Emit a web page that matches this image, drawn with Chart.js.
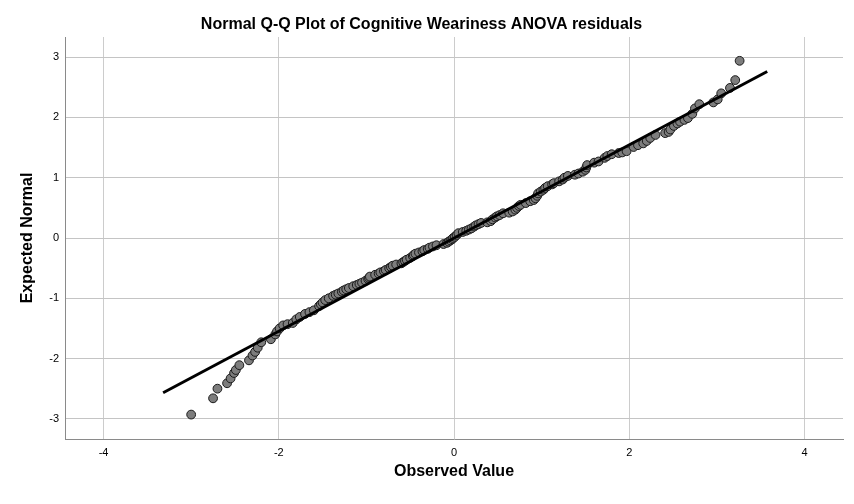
<!DOCTYPE html>
<html>
<head>
<meta charset="utf-8">
<script src="https://cdn.jsdelivr.net/npm/chart.js"></script>
<style>
    body { margin: 0; background: #ffffff; }
    #wrap { width: 854px; height: 504px; }
</style>
</head>
<body>
<div id="wrap"><canvas id="qq" width="854" height="504"></canvas></div>
<script>
// observed residuals (x) and expected normal quantiles (y)
let observed = [
    -3.00, -2.75, -2.70, -2.59, -2.55, -2.51, -2.49, -2.45, -2.34, -2.30,
    -2.27, -2.24, -2.20, -2.09, -2.04, -2.02, -1.99, -1.95, -1.90, -1.84,
    -1.80, -1.76, -1.70, -1.65, -1.60, -1.54, -1.52, -1.50, -1.47, -1.43,
    -1.38, -1.35, -1.32, -1.28, -1.26, -1.23, -1.20, -1.15, -1.11, -1.08,
    -1.05, -1.01, -0.98, -0.97, -0.96, -0.90, -0.86, -0.84, -0.80, -0.78,
    -0.74, -0.72, -0.70, -0.66, -0.60, -0.58, -0.56, -0.54, -0.50, -0.47,
    -0.46, -0.44, -0.40, -0.36, -0.34, -0.30, -0.28, -0.24, -0.20, -0.12,
    -0.08, -0.06, -0.04, -0.02, -0.01, 0.01, 0.03, 0.05, 0.10, 0.14,
    0.17, 0.20, 0.23, 0.25, 0.28, 0.31, 0.38, 0.42, 0.44, 0.47,
    0.49, 0.52, 0.56, 0.63, 0.67, 0.70, 0.72, 0.74, 0.76, 0.82,
    0.87, 0.91, 0.93, 0.95, 0.96, 0.99, 1.02, 1.04, 1.07, 1.12,
    1.14, 1.20, 1.24, 1.26, 1.30, 1.38, 1.42, 1.47, 1.50, 1.51,
    1.52, 1.60, 1.65, 1.72, 1.75, 1.80, 1.88, 1.92, 1.97, 2.05,
    2.10, 2.16, 2.20, 2.24, 2.30, 2.41, 2.45, 2.47, 2.51, 2.55,
    2.58, 2.63, 2.67, 2.72, 2.75, 2.80, 2.96, 3.01, 3.05, 3.15,
    3.21, 3.26
];
let expected = [
    -2.93, -2.66, -2.50, -2.41, -2.33, -2.24, -2.19, -2.11, -2.03, -1.95,
    -1.89, -1.82, -1.73, -1.68, -1.60, -1.55, -1.50, -1.45, -1.43, -1.41,
    -1.35, -1.31, -1.26, -1.23, -1.20, -1.13, -1.10, -1.07, -1.03, -1.00,
    -0.96, -0.94, -0.92, -0.89, -0.87, -0.85, -0.83, -0.80, -0.78, -0.76,
    -0.74, -0.71, -0.68, -0.66, -0.64, -0.61, -0.59, -0.57, -0.55, -0.53,
    -0.50, -0.48, -0.46, -0.44, -0.42, -0.40, -0.38, -0.36, -0.33, -0.30,
    -0.28, -0.26, -0.24, -0.22, -0.20, -0.18, -0.16, -0.14, -0.12, -0.10,
    -0.08, -0.06, -0.04, -0.02, 0.00, 0.02, 0.05, 0.08, 0.10, 0.12,
    0.14, 0.16, 0.19, 0.21, 0.23, 0.25, 0.26, 0.28, 0.31, 0.34,
    0.36, 0.38, 0.41, 0.42, 0.44, 0.47, 0.50, 0.53, 0.55, 0.58,
    0.61, 0.63, 0.66, 0.70, 0.74, 0.77, 0.80, 0.83, 0.86, 0.89,
    0.91, 0.94, 0.97, 1.00, 1.03, 1.05, 1.07, 1.10, 1.13, 1.17,
    1.21, 1.25, 1.27, 1.33, 1.36, 1.39, 1.41, 1.42, 1.44, 1.51,
    1.54, 1.57, 1.61, 1.66, 1.71, 1.74, 1.76, 1.80, 1.86, 1.90,
    1.93, 1.96, 1.99, 2.06, 2.15, 2.22, 2.25, 2.30, 2.40, 2.49,
    2.62, 2.94
];

// reference line end points
let lineX = [-3.32, 3.575];
let lineY = [-2.567, 2.763];

let xTicks = [-4, -2, 0, 2, 4];
let yTicks = [-3, -2, -1, 0, 1, 2, 3];

let fontName = '"Liberation Sans", Arial, sans-serif';

function makePoints(xs, ys) {
    let pts = [];
    for (let i = 0; i < xs.length; i++) {
        pts.push({ x: xs[i], y: ys[i] });
    }
    return pts;
}

function drawChart() {
    const ctx = document.getElementById('qq');

    new Chart(ctx, {
        type: 'scatter',
        data: {
            datasets: [{
                type: 'line',
                data: makePoints(lineX, lineY),
                borderColor: '#000000',
                borderWidth: 3,
                pointRadius: 0,
                fill: false,
                order: 0
            }, {
                data: makePoints(observed, expected),
                backgroundColor: '#7d7d7d',
                borderColor: '#1a1a1a',
                borderWidth: 1,
                pointRadius: 4.4,
                order: 1
            }]
        },
        options: {
            responsive: false,
            animation: false,
            devicePixelRatio: 1,
            layout: { padding: { left: 0, right: 11, top: 0, bottom: 0 } },
            plugins: {
                legend: { display: false },
                tooltip: { enabled: false },
                title: {
                    display: true,
                    text: 'Normal Q-Q Plot of Cognitive Weariness ANOVA residuals',
                    color: '#000000',
                    font: { family: fontName, size: 16, weight: 'bold', lineHeight: 1.2 },
                    padding: { top: 15, bottom: 2.8 }
                }
            },
            scales: {
                x: {
                    type: 'linear',
                    min: -4.44,
                    max: 4.44,
                    afterFit: function (scale) { scale.height = 65; },
                    afterBuildTicks: function (scale) {
                        scale.ticks = xTicks.map(v => ({ value: v }));
                    },
                    ticks: {
                        color: '#000000',
                        font: { family: fontName, size: 11 },
                        padding: 7,
                        maxRotation: 0
                    },
                    grid: { color: '#cccccc', lineWidth: 1, drawTicks: false },
                    border: { color: '#8a8a8a', width: 1 },
                    title: {
                        display: true,
                        text: 'Observed Value',
                        color: '#000000',
                        font: { family: fontName, size: 16, weight: 'bold', lineHeight: 1.2 },
                        padding: { top: 0, bottom: 22.4 }
                    }
                },
                y: {
                    type: 'linear',
                    min: -3.335,
                    max: 3.335,
                    afterFit: function (scale) { scale.width = 65; },
                    afterBuildTicks: function (scale) {
                        scale.ticks = yTicks.map(v => ({ value: v }));
                    },
                    ticks: {
                        color: '#000000',
                        font: { family: fontName, size: 11 },
                        padding: 6
                    },
                    grid: { color: '#c4c4c4', lineWidth: 1, drawTicks: false },
                    border: { color: '#8a8a8a', width: 1 },
                    title: {
                        display: true,
                        text: 'Expected Normal',
                        color: '#000000',
                        font: { family: fontName, size: 16, weight: 'bold', lineHeight: 1.2 },
                        padding: { top: 18.4, bottom: 18.4 }
                    }
                }
            }
        }
    });
}

drawChart();
</script>
</body>
</html>
